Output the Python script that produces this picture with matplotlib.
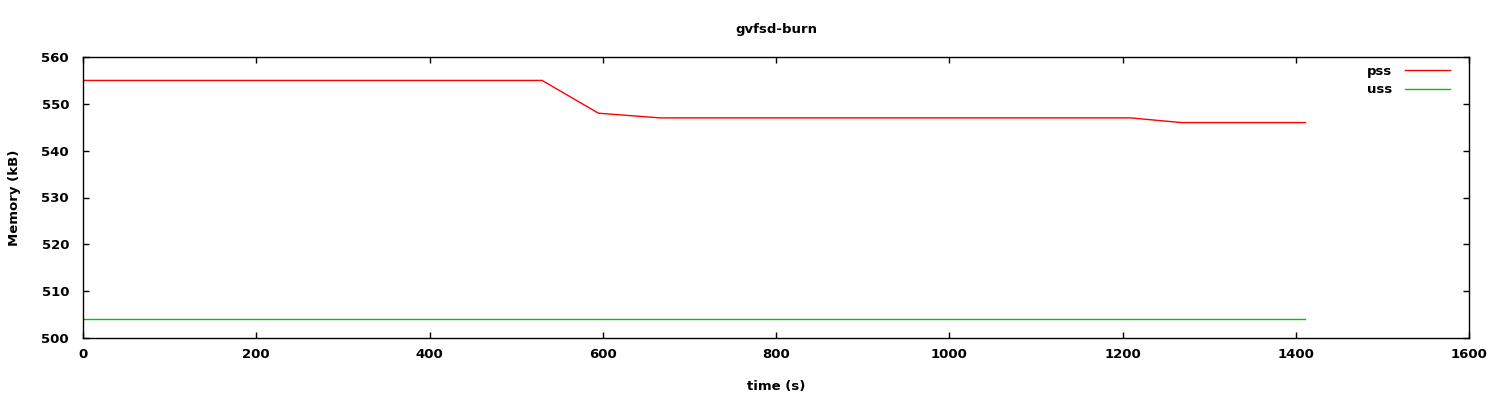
import matplotlib
matplotlib.use("Agg")
import matplotlib.pyplot as plt
import numpy as np

# values (time in s, memory in kB)
pss_t = [0, 530, 595, 666, 1209, 1268, 1411]
pss_v = [555, 555, 548, 547, 547, 546, 546]
uss_t = [0, 1411]
uss_v = [504, 504]

xticks = np.arange(0, 1601, 200)
yticks = np.arange(500, 561, 10)

plt.rcParams['font.family'] = ['DejaVu Sans']
plt.rcParams['font.size'] = 9.5
plt.rcParams['font.weight'] = 'bold'

fig = plt.figure(figsize=(15, 4), dpi=100)
ax = fig.add_axes([83/1500, 1 - 338/400, (1469-83)/1500, (338-57)/400])

ax.plot(pss_t, pss_v, color='#ff0000', lw=1, label='pss')
ax.plot(uss_t, uss_v, color='#00c000', lw=1, label='uss')

ax.set_xlim(0, 1600)
ax.set_ylim(500, 560)
ax.set_xticks(xticks)
ax.set_yticks(yticks)
ax.tick_params(direction='in', top=True, right=True, length=4, width=1)
ax.tick_params(axis='x', pad=7.5)
ax.tick_params(axis='y', pad=10)
for s in ax.spines.values():
    s.set_linewidth(1)

ax.set_xlabel('time (s)', fontweight='bold', labelpad=13.5)
ax.yaxis.set_label_coords(-(83-15)/1386, 0.5)
ax.set_ylabel('Memory (kB)', fontweight='bold', va='center')
ax.text(0.5, 1 + 28/281, 'gvfsd-burn', transform=ax.transAxes,
        ha='center', va='center', fontweight='bold')

ax.legend(loc='upper right', frameon=False, markerfirst=False, handlelength=3.4,
          handletextpad=1.0, bbox_to_anchor=(0.9863, 0.972), borderaxespad=0,
          borderpad=0, labelspacing=0.4)

fig.savefig('out.png', dpi=100)
